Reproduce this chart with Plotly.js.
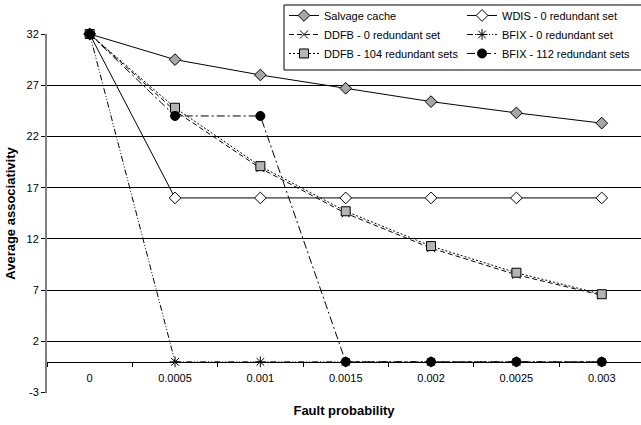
<!DOCTYPE html>
<html>
<head>
<meta charset="utf-8">
<script src="https://cdn.plot.ly/plotly-3.0.1.min.js"></script>
<style>html,body{margin:0;padding:0;background:#fff;}#chart{width:641px;height:425px;}</style>
</head>
<body>
<div id="chart"></div>
<script>
var categories = ['0', '0.0005', '0.001', '0.0015', '0.002', '0.0025', '0.003'];
var salvageCache = [32, 29.5, 28.0, 26.7, 25.4, 24.3, 23.3];
var wdis0 = [32, 16, 16, 16, 16, 16, 16];
var ddfb0 = [32, 24.5, 18.9, 14.5, 11.1, 8.5, 6.5];
var bfix0 = [32, 0, 0, 0, 0, 0, 0];
var ddfb104 = [32, 24.8, 19.1, 14.7, 11.3, 8.7, 6.6];
var bfix112 = [32, 24, 24, 0, 0, 0, 0];
var yTicks = [-3, 2, 7, 12, 17, 22, 27, 32];

var FONT = 'Liberation Sans, Arial, sans-serif';

var traces = [
  {name: 'Salvage cache', y: salvageCache, legend: 'legend', line: {color: '#000', width: 1, dash: 'solid'},
   marker: {symbol: 'diamond', size: 9, color: '#a6a6a6', line: {color: '#000', width: 1}}},
  {name: 'WDIS - 0 redundant set', y: wdis0, legend: 'legend2', line: {color: '#000', width: 1, dash: 'solid'},
   marker: {symbol: 'diamond', size: 9, color: '#fff', line: {color: '#000', width: 1}}},
  {name: 'DDFB - 0 redundant set', y: ddfb0, legend: 'legend', line: {color: '#000', width: 1, dash: '5px,3px'},
   marker: {symbol: 'x-thin-open', size: 8, color: '#000', line: {color: '#000', width: 1}}},
  {name: 'BFIX - 0 redundant set', y: bfix0, legend: 'legend2', line: {color: '#000', width: 1, dash: '6px,2px,1px,2px,1px,2px'},
   marker: {symbol: 'asterisk-open', size: 9, color: '#000', line: {color: '#000', width: 1}}},
  {name: 'DDFB - 104 redundant sets', y: ddfb104, legend: 'legend', line: {color: '#000', width: 1, dash: '2px,2px'},
   marker: {symbol: 'square', size: 9, color: '#b4b4b4', line: {color: '#000', width: 1}}},
  {name: 'BFIX - 112 redundant sets', y: bfix112, legend: 'legend2', line: {color: '#000', width: 1, dash: '8px,3px,2px,3px'},
   marker: {symbol: 'circle', size: 9, color: '#000', line: {color: '#000', width: 1}}}
].map(function (t) {
  return Object.assign({type: 'scatter', mode: 'lines+markers', x: categories, cliponaxis: false}, t);
});

var legendCommon = {
  orientation: 'v', xanchor: 'left', yanchor: 'top', y: 1.092,
  bgcolor: 'rgba(0,0,0,0)', borderwidth: 0,
  font: {family: FONT, size: 11, color: '#000'}, traceorder: 'normal'
};

var layout = {
  width: 641, height: 425,
  margin: {l: 47, r: 0, t: 34, b: 32, pad: 0},
  paper_bgcolor: '#fff', plot_bgcolor: '#fff',
  font: {family: FONT, size: 11, color: '#000'},
  showlegend: true,
  legend: Object.assign({x: 0.399}, legendCommon),
  legend2: Object.assign({x: 0.6987}, legendCommon),
  shapes: [{
    type: 'rect', xref: 'paper', yref: 'paper', x0: 0.399, x1: 1.002, y0: 0.8997, y1: 1.0808,
    line: {color: '#000', width: 1}, fillcolor: '#fff', layer: 'above'
  }],
  xaxis: {
    type: 'category', range: [-0.5, 6.46], anchor: 'free', position: 3 / 35,
    showline: true, linecolor: '#000', linewidth: 1,
    ticks: 'outside', tickson: 'boundaries', ticklen: 4, tickcolor: '#000',
    ticklabelstandoff: 6,
    showgrid: false, zeroline: false,
    tickfont: {family: FONT, size: 11, color: '#000'},
    title: {text: 'Fault probability', font: {family: FONT, size: 13, color: '#000', weight: 'bold'}, standoff: 22}
  },
  yaxis: {
    range: [-3.04, 32], tickmode: 'array', tickvals: yTicks, ticktext: yTicks.map(String),
    showgrid: true, gridcolor: '#000', gridwidth: 1,
    showline: true, linecolor: '#808080', linewidth: 2,
    ticks: 'outside', ticklen: 4, tickcolor: '#000', zeroline: false,
    tickfont: {family: FONT, size: 11, color: '#000'},
    title: {text: 'Average associativity', font: {family: FONT, size: 13, color: '#000', weight: 'bold'}, standoff: 8}
  }
};

Plotly.newPlot('chart', traces, layout, {displayModeBar: false, staticPlot: true});
</script>
</body>
</html>
